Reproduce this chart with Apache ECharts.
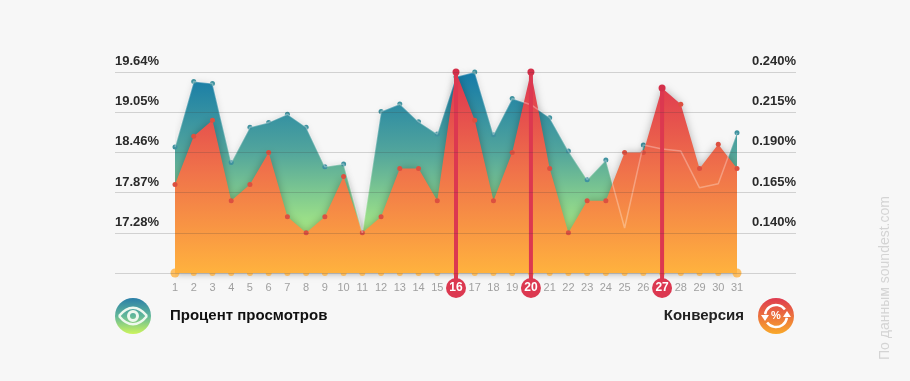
<!DOCTYPE html>
<html><head><meta charset="utf-8">
<style>html,body{margin:0;padding:0;background:#f7f7f7}#c{width:910px;height:381px}</style>
<script src="https://cdn.jsdelivr.net/npm/echarts@6/dist/echarts.min.js"></script>
</head><body><div id="c"></div>
<script>
const days = Array.from({length:31},(_, i)=>String(i+1));
const views = [18.54,19.50,19.47,18.31,18.83,18.90,19.02,18.83,18.25,18.29,17.28,19.06,19.17,18.91,18.73,19.57,19.64,18.72,19.25,19.16,18.97,18.48,18.06,18.35,17.35,18.57,18.51,18.48,17.94,18.00,18.75];
const conversion = [0.17,0.20,0.21,0.16,0.17,0.19,0.15,0.14,0.15,0.175,0.14,0.15,0.18,0.18,0.16,0.24,0.21,0.16,0.19,0.24,0.18,0.14,0.16,0.16,0.19,0.19,0.23,0.22,0.18,0.195,0.18];
const highlighted = ['16','20','27'];
const viewsMin = 16.69, viewsMax = 19.64, viewsStep = 0.59;
const convMin = 0.115, convMax = 0.24, convStep = 0.025;
const seriesNames = ['Процент просмотров','Конверсия'];
const credit = 'По данным soundest.com';

const grad = (stops,y1,y2)=>({type:'linear',x:0,y:y1,x2:0,y2:y2,global:true,colorStops:stops});
const tealFill = grad([{offset:0,color:'#147aa8'},{offset:0.5,color:'#52a59c'},{offset:1,color:'#a8ea84'}],72,232);
const orangeFill = grad([{offset:0,color:'#dd3350'},{offset:0.5,color:'#f0734a'},{offset:1,color:'#ffb23e'}],72,273);
const RED = '#dc3850';
const font = '"Liberation Sans", Arial, sans-serif';

const yBase = {type:'value',gridIndex:0,axisLine:{show:false},axisTick:{show:false},z:6,
  splitLine:{show:true,lineStyle:{color:'rgba(60,60,60,0.2)',width:1}}};

const chart = echarts.init(document.getElementById('c'),null,{renderer:'canvas'});
chart.setOption({
  backgroundColor:'#f7f7f7',
  animation:false,
  grid:[{left:115,width:681,top:72,height:201},{left:175,width:562,top:72,height:201}],
  xAxis:[
    {type:'value',gridIndex:0,show:false,min:0,max:1},
    {type:'category',gridIndex:1,data:days,boundaryGap:false,axisLine:{show:false},axisTick:{show:false},splitLine:{show:false},z:8,
      axisLabel:{interval:0,margin:15,verticalAlign:'middle',color:'#a0a0a0',fontSize:11,fontFamily:font,
        formatter:v=>highlighted.includes(v)?`{h|${v}}`:v,
        rich:{h:{color:'#fff',fontWeight:'bold',fontSize:12,fontFamily:font,backgroundColor:RED,borderRadius:10,width:20,height:20,lineHeight:20,align:'center'}}}}
  ],
  yAxis:[
    Object.assign({},yBase,{position:'left',min:viewsMin,max:viewsMax,interval:viewsStep,
      axisLabel:{inside:true,margin:0,showMinLabel:false,verticalAlign:'bottom',padding:[0,0,4,0],color:'#2b2b2b',fontWeight:'bold',fontSize:13,fontFamily:font,formatter:v=>v.toFixed(2)+'%'}}),
    Object.assign({},yBase,{position:'right',min:convMin,max:convMax,interval:convStep,splitLine:{show:false},
      axisLabel:{inside:true,margin:0,showMinLabel:false,verticalAlign:'bottom',padding:[0,0,4,0],color:'#2b2b2b',fontWeight:'bold',fontSize:13,fontFamily:font,formatter:v=>v.toFixed(3)+'%'}}),
    {type:'value',gridIndex:1,show:false,min:viewsMin,max:viewsMax},
    {type:'value',gridIndex:1,show:false,min:convMin,max:convMax}
  ],
  series:[
    {type:'line',name:seriesNames[0],xAxisIndex:1,yAxisIndex:2,data:views,z:2,clip:false,showAllSymbol:true,symbol:'circle',symbolSize:5,
      itemStyle:{color:'#3f929f'},lineStyle:{width:0},
      areaStyle:{origin:'start',color:tealFill,opacity:1,shadowColor:'rgba(0,0,0,0.12)',shadowBlur:6}},
    {type:'line',name:seriesNames[1],xAxisIndex:1,yAxisIndex:3,data:conversion,z:3,clip:false,showAllSymbol:true,symbol:'circle',symbolSize:5,
      itemStyle:{color:'#dc5040'},lineStyle:{width:0},
      areaStyle:{origin:'start',color:orangeFill,opacity:1,shadowColor:'rgba(0,0,0,0.28)',shadowBlur:8}},
    {type:'line',xAxisIndex:1,yAxisIndex:2,data:views,z:4,clip:false,symbol:'none',silent:true,
      lineStyle:{color:'rgba(255,255,255,0.3)',width:1.5}},
    {type:'scatter',xAxisIndex:1,yAxisIndex:3,z:4,clip:false,symbolSize:(v,p)=>(p.dataIndex===0||p.dataIndex===days.length-1)?9:6,
      itemStyle:{color:'#ffb23e'},data:days.map(()=>convMin)},
    {type:'custom',xAxisIndex:1,yAxisIndex:3,z:5,clip:false,
      data:highlighted.map(d=>[d,conversion[days.indexOf(d)]]),
      encode:{x:0,y:1},
      renderItem:(params,api)=>{
        const top = api.coord([api.value(0),api.value(1)]);
        const bottom = api.coord([api.value(0),convMin]);
        return {type:'group',children:[
          {type:'line',shape:{x1:top[0],y1:top[1],x2:top[0],y2:bottom[1]+10},style:{stroke:RED,lineWidth:4}},
          {type:'circle',shape:{cx:top[0],cy:top[1],r:3.5},style:{fill:'#d4304a'}}
        ]};
      }}
  ],
  graphic:[
    {type:'circle',shape:{cx:133,cy:316,r:18},style:{fill:grad([{offset:0,color:'#2a7ea8'},{offset:0.5,color:'#62b89a'},{offset:1,color:'#ccf45c'}],298,334)}},
    {type:'bezierCurve',shape:{x1:119,y1:316,x2:147,y2:316,cpx1:128,cpy1:305,cpx2:138,cpy2:305},style:{stroke:'#eef8ee',lineWidth:2.5,fill:null}},
    {type:'bezierCurve',shape:{x1:119,y1:316,x2:147,y2:316,cpx1:128,cpy1:327,cpx2:138,cpy2:327},style:{stroke:'#eef8ee',lineWidth:2.5,fill:null}},
    {type:'ring',shape:{cx:133,cy:316,r:6,r0:3},style:{fill:'#eef8ee'}},
    {type:'text',x:170,y:316,style:{text:seriesNames[0],font:'bold 15px '+font,fill:'#111',textAlign:'left',textVerticalAlign:'middle'}},
    {type:'text',x:744,y:316,style:{text:seriesNames[1],font:'bold 15px '+font,fill:'#222',textAlign:'right',textVerticalAlign:'middle'}},
    {type:'circle',shape:{cx:776,cy:316,r:18},style:{fill:grad([{offset:0,color:'#de3a50'},{offset:1,color:'#f9a92a'}],298,334)}},
    {type:'arc',shape:{cx:776,cy:316,r:11,startAngle:Math.PI*1.05,endAngle:Math.PI*1.8},style:{stroke:'#fff',lineWidth:2.5,fill:null}},
    {type:'arc',shape:{cx:776,cy:316,r:11,startAngle:Math.PI*0.05,endAngle:Math.PI*0.8},style:{stroke:'#fff',lineWidth:2.5,fill:null}},
    {type:'polygon',shape:{points:[[761,315],[769,315],[765,321]]},style:{fill:'#fff'}},
    {type:'polygon',shape:{points:[[783,317],[791,317],[787,311]]},style:{fill:'#fff'}},
    {type:'text',x:776,y:316,style:{text:'%',font:'bold 11px '+font,fill:'#fff',textAlign:'center',textVerticalAlign:'middle'}},
    {type:'text',x:885,y:278,rotation:Math.PI/2,style:{text:credit,font:'14px '+font,fill:'#d4d4d4',textAlign:'center',textVerticalAlign:'middle'}}
  ]
});
</script></body></html>
